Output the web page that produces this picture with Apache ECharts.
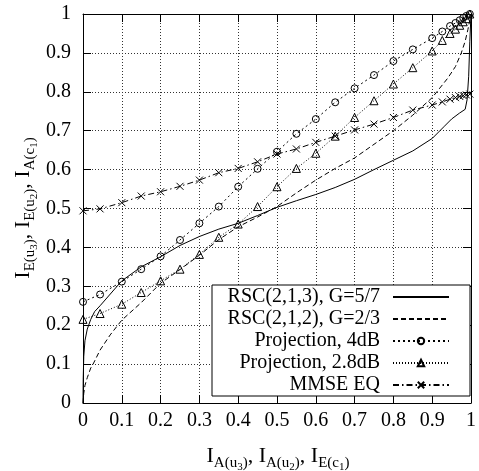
<!DOCTYPE html>
<html>
<head>
<meta charset="utf-8">
<script src="https://cdn.jsdelivr.net/npm/echarts@6/dist/echarts.min.js"></script>
<style>
  html, body { margin: 0; padding: 0; background: #fff; }
  #chart { width: 479px; height: 471px; }
</style>
</head>
<body>
<div id="chart"></div>
<script>
// EXIT-style transfer curves
const tickValues = [0, 0.1, 0.2, 0.3, 0.4, 0.5, 0.6, 0.7, 0.8, 0.9, 1];

// RSC(2,1,3), G=5/7 decoder curve
const rsc213X = [0, 0.0005, 0.002, 0.005, 0.011, 0.02, 0.03, 0.044, 0.1, 0.15, 0.2, 0.25, 0.3, 0.35, 0.4, 0.45, 0.5, 0.55, 0.6, 0.65, 0.7, 0.75, 0.8, 0.85, 0.9, 0.93, 0.95, 0.97, 0.985, 0.99, 0.994, 0.997, 1];
const rsc213Y = [0, 0.06, 0.12, 0.16, 0.19, 0.215, 0.235, 0.25, 0.314, 0.35, 0.376, 0.405, 0.428, 0.447, 0.462, 0.482, 0.503, 0.52, 0.536, 0.554, 0.575, 0.6, 0.624, 0.648, 0.68, 0.71, 0.73, 0.745, 0.755, 0.78, 0.84, 0.93, 1];

// RSC(2,1,2), G=2/3 decoder curve
const rsc212X = [0, 0.002, 0.005, 0.011, 0.02, 0.026, 0.044, 0.07, 0.1, 0.15, 0.2, 0.25, 0.3, 0.35, 0.4, 0.45, 0.5, 0.55, 0.6, 0.65, 0.7, 0.75, 0.8, 0.85, 0.9, 0.94, 0.96, 0.975, 0.985, 0.992, 0.997, 1];
const rsc212Y = [0, 0.025, 0.045, 0.065, 0.09, 0.1, 0.136, 0.175, 0.213, 0.258, 0.308, 0.343, 0.38, 0.42, 0.453, 0.478, 0.505, 0.54, 0.573, 0.603, 0.63, 0.665, 0.7, 0.74, 0.785, 0.835, 0.865, 0.9, 0.93, 0.96, 0.985, 1];

// a-priori information points shared by the marker curves
const markerX = [0, 0.044, 0.1, 0.15, 0.2, 0.25, 0.3, 0.35, 0.4, 0.45, 0.5, 0.55, 0.6, 0.65, 0.7, 0.75, 0.8, 0.85, 0.9, 0.926, 0.946, 0.96, 0.971, 0.98, 0.988, 0.997];
const proj4dbY = [0.26, 0.279, 0.312, 0.344, 0.377, 0.419, 0.462, 0.505, 0.556, 0.602, 0.646, 0.692, 0.73, 0.773, 0.809, 0.843, 0.879, 0.909, 0.938, 0.955, 0.969, 0.977, 0.984, 0.99, 0.995, 1.0];
const proj28dbY = [0.215, 0.23, 0.254, 0.284, 0.314, 0.344, 0.382, 0.426, 0.46, 0.505, 0.556, 0.603, 0.642, 0.686, 0.734, 0.777, 0.82, 0.862, 0.905, 0.932, 0.95, 0.961, 0.971, 0.98, 0.988, 1.0];
const mmseY = [0.494, 0.499, 0.515, 0.532, 0.543, 0.557, 0.573, 0.592, 0.603, 0.62, 0.64, 0.653, 0.67, 0.686, 0.702, 0.717, 0.734, 0.753, 0.766, 0.774, 0.781, 0.785, 0.788, 0.79, 0.792, 0.794];

const seriesNames = ['RSC(2,1,3), G=5/7', 'RSC(2,1,2), G=2/3', 'Projection, 4dB', 'Projection, 2.8dB', 'MMSE EQ'];

const zip = (xs, ys) => xs.map((x, i) => [x, ys[i]]);

const FONT = "'Liberation Serif', 'Times New Roman', serif";
const BLACK = '#000';
const CLEAR = 'rgba(0,0,0,0)';

const gridLine = { show: true, lineStyle: { color: '#333', width: 1, type: [1, 2] } };
const axisLine = { show: true, onZero: false, lineStyle: { color: BLACK, width: 1 } };
const axisTick = { show: true, inside: true, length: 8, lineStyle: { color: BLACK, width: 1 } };
const tickLabel = { color: BLACK, fontFamily: FONT, fontSize: 20 };

const baseAxis = { type: 'value', min: 0, max: 1, interval: 0.1 };

const richTitle = {
  m:  { fontFamily: FONT, fontSize: 22, lineHeight: 22, verticalAlign: 'top', color: BLACK },
  s:  { fontFamily: FONT, fontSize: 15, lineHeight: 15, verticalAlign: 'top', padding: [11, 0, 0, 0], color: BLACK },
  ss: { fontFamily: FONT, fontSize: 11, lineHeight: 11, verticalAlign: 'top', padding: [17, 0, 0, 0], color: BLACK }
};

const chart = echarts.init(document.getElementById('chart'), null, { renderer: 'canvas' });

chart.setOption({
  animation: false,
  backgroundColor: '#fff',
  grid: { left: 83, right: 6, top: 14, bottom: 68, containLabel: false },
  xAxis: [
    Object.assign({}, baseAxis, {
      position: 'bottom',
      axisLine, axisTick,
      splitLine: gridLine,
      axisLabel: Object.assign({ margin: 8, formatter: v => String(tickValues[Math.round(v * 10)]) }, tickLabel)
    }),
    Object.assign({}, baseAxis, {
      position: 'top',
      axisLine, axisTick,
      splitLine: { show: false },
      axisLabel: { show: false }
    })
  ],
  yAxis: [
    Object.assign({}, baseAxis, {
      position: 'left',
      axisLine, axisTick,
      splitLine: gridLine,
      axisLabel: Object.assign({ margin: 12, formatter: v => String(tickValues[Math.round(v * 10)]) }, tickLabel)
    }),
    Object.assign({}, baseAxis, {
      position: 'right',
      axisLine, axisTick,
      splitLine: { show: false },
      axisLabel: { show: false }
    })
  ],
  legend: {
    data: seriesNames,
    orient: 'vertical',
    left: 212,
    top: 285,
    align: 'right',
    padding: [1, 20, 0, 8],
    itemGap: 0,
    itemWidth: 56,
    itemHeight: 8,
    selectedMode: false,
    backgroundColor: '#fff',
    borderColor: BLACK,
    borderWidth: 1,
    borderRadius: 0,
    textStyle: {
      fontFamily: FONT, fontSize: 20, color: BLACK,
      lineHeight: 22, width: 160, padding: [0, 8, 0, 0]
    }
  },
  series: [
    {
      name: seriesNames[0], type: 'line', data: zip(rsc213X, rsc213Y),
      symbol: 'circle', showSymbol: false, z: 3,
      lineStyle: { color: BLACK, width: 1, type: 'solid' },
      itemStyle: { color: CLEAR, borderColor: CLEAR, borderWidth: 0 }
    },
    {
      name: seriesNames[1], type: 'line', data: zip(rsc212X, rsc212Y),
      symbol: 'circle', showSymbol: false, z: 3,
      lineStyle: { color: BLACK, width: 1, type: [5, 3] },
      itemStyle: { color: CLEAR, borderColor: CLEAR, borderWidth: 0 }
    },
    {
      name: seriesNames[2], type: 'line', data: zip(markerX, proj4dbY),
      symbol: 'circle', symbolSize: 7, z: 4,
      lineStyle: { color: BLACK, width: 1, type: [2, 3] },
      itemStyle: { color: CLEAR, borderColor: BLACK, borderWidth: 1 }
    },
    {
      name: seriesNames[3], type: 'line', data: zip(markerX, proj28dbY),
      symbol: 'triangle', symbolSize: 8, z: 4,
      lineStyle: { color: BLACK, width: 1, type: [1, 2] },
      itemStyle: { color: CLEAR, borderColor: BLACK, borderWidth: 1 }
    },
    {
      name: seriesNames[4], type: 'line', data: zip(markerX, mmseY),
      symbol: 'path://M0,0L10,10M10,0L0,10', symbolSize: 7, z: 4,
      lineStyle: { color: BLACK, width: 1, type: [6, 3, 1.5, 3] },
      itemStyle: { color: 'none', borderColor: BLACK, borderWidth: 1 }
    }
  ],
  graphic: [
    {
      type: 'text',
      x: 278, y: 456,
      style: {
        text: '{m|I}{s|A(u}{ss|3}{s|)}{m|, I}{s|A(u}{ss|2}{s|)}{m|, I}{s|E(c}{ss|1}{s|)}',
        align: 'center', verticalAlign: 'middle',
        rich: richTitle
      }
    },
    {
      type: 'text',
      x: 23, y: 208,
      rotation: Math.PI / 2,
      style: {
        text: '{m|I}{s|E(u}{ss|3}{s|)}{m|, I}{s|E(u}{ss|2}{s|)}{m|, I}{s|A(c}{ss|1}{s|)}',
        align: 'center', verticalAlign: 'middle',
        rich: richTitle
      }
    }
  ]
});
</script>
</body>
</html>
